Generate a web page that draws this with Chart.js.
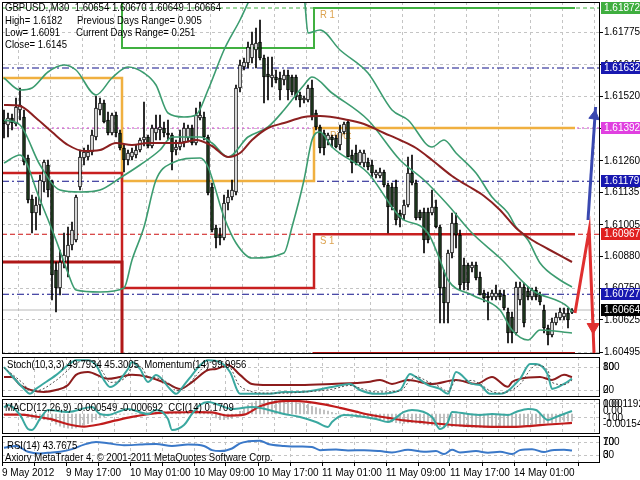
<!DOCTYPE html>
<html><head><meta charset="utf-8">
<script src="https://cdn.jsdelivr.net/npm/chart.js@4.4.1/dist/chart.umd.min.js"></script>
<style>
html,body{margin:0;padding:0;background:#fff;}
#wrap{position:relative;width:640px;height:480px;overflow:hidden;background:#fff;}
canvas{position:absolute;left:0;}
</style></head><body>
<div id="wrap">
<canvas id="cMain" width="640" height="362" style="top:0px"></canvas>
<canvas id="cStoch" width="640" height="42" style="top:356px"></canvas>
<canvas id="cMacd" width="640" height="38" style="top:398px"></canvas>
<canvas id="cRsi" width="640" height="45" style="top:435px"></canvas>
</div>
<script>
// ---------- DATA ----------
const opens = [1.61424,1.61404,1.61432,1.61408,1.61464,1.61436,1.61272,1.61108,1.61052,1.61084,1.61176,1.61244,1.61176,1.60824,1.60752,1.60856,1.60876,1.60924,1.60944,1.61156,1.61272,1.61276,1.61296,1.61356,1.61464,1.61492,1.61424,1.61372,1.61444,1.61372,1.61312,1.61264,1.61276,1.61284,1.61304,1.61344,1.61356,1.61320,1.61372,1.61384,1.61392,1.61372,1.61364,1.61304,1.61316,1.61336,1.61352,1.61392,1.61332,1.61432,1.61436,1.61356,1.61156,1.60992,1.60964,1.60952,1.61092,1.61116,1.61136,1.61552,1.61636,1.61652,1.61672,1.61704,1.61736,1.61672,1.61608,1.61592,1.61596,1.61592,1.61584,1.61604,1.61596,1.61596,1.61524,1.61504,1.61504,1.61552,1.61452,1.61396,1.61372,1.61344,1.61356,1.61352,1.61324,1.61376,1.61416,1.61284,1.61292,1.61252,1.61252,1.61256,1.61244,1.61204,1.61200,1.61216,1.61164,1.61156,1.61156,1.61052,1.61044,1.61084,1.61212,1.61172,1.61056,1.61056,1.61056,1.61052,1.61076,1.60996,1.60756,1.60692,1.60892,1.61012,1.60964,1.60844,1.60844,1.60832,1.60844,1.60796,1.60732,1.60720,1.60716,1.60716,1.60732,1.60724,1.60656,1.60636,1.60572,1.60704,1.60756,1.60740,1.60716,1.60744,1.60724,1.60664,1.60592,1.60564,1.60612,1.60632,1.60636,1.60652,1.60654];
const highs = [1.61464,1.61452,1.61448,1.61512,1.61552,1.61464,1.61284,1.61124,1.61116,1.61204,1.61264,1.61264,1.61184,1.60856,1.60904,1.60972,1.60996,1.61016,1.61124,1.61304,1.61312,1.61324,1.61384,1.61520,1.61512,1.61504,1.61456,1.61452,1.61456,1.61384,1.61324,1.61304,1.61312,1.61324,1.61352,1.61496,1.61364,1.61404,1.61444,1.61444,1.61416,1.61424,1.61372,1.61344,1.61384,1.61412,1.61404,1.61404,1.61472,1.61496,1.61456,1.61364,1.61172,1.61004,1.60992,1.61124,1.61144,1.61184,1.61564,1.61664,1.61672,1.61736,1.61776,1.61792,1.61824,1.61684,1.61676,1.61676,1.61624,1.61616,1.61624,1.61624,1.61604,1.61604,1.61536,1.61520,1.61564,1.61584,1.61464,1.61404,1.61384,1.61372,1.61364,1.61364,1.61404,1.61416,1.61424,1.61304,1.61324,1.61304,1.61304,1.61272,1.61264,1.61224,1.61232,1.61224,1.61172,1.61172,1.61184,1.61064,1.61104,1.61276,1.61284,1.61184,1.61064,1.61072,1.61072,1.61144,1.61104,1.61004,1.60824,1.60904,1.61052,1.61052,1.60984,1.60872,1.60852,1.60856,1.60856,1.60816,1.60744,1.60736,1.60744,1.60764,1.60744,1.60744,1.60672,1.60656,1.60776,1.60776,1.60772,1.60756,1.60752,1.60756,1.60736,1.60684,1.60604,1.60632,1.60652,1.60672,1.60672,1.60672,1.60670];
const lows = [1.61352,1.61356,1.61384,1.61400,1.61424,1.61244,1.61092,1.60972,1.60984,1.61044,1.61136,1.61116,1.60704,1.60656,1.60724,1.60832,1.60796,1.60904,1.60936,1.61144,1.61244,1.61264,1.61284,1.61344,1.61444,1.61412,1.61364,1.61364,1.61356,1.61304,1.61216,1.61244,1.61264,1.61272,1.61296,1.61320,1.61312,1.61312,1.61344,1.61344,1.61356,1.61344,1.61224,1.61284,1.61304,1.61316,1.61336,1.61324,1.61324,1.61424,1.61344,1.61124,1.60976,1.60912,1.60924,1.60944,1.61064,1.61104,1.61124,1.61536,1.61624,1.61632,1.61652,1.61632,1.61664,1.61492,1.61504,1.61556,1.61572,1.61504,1.61564,1.61504,1.61524,1.61504,1.61476,1.61492,1.61496,1.61424,1.61384,1.61292,1.61284,1.61324,1.61316,1.61312,1.61304,1.61368,1.61276,1.61212,1.61244,1.61244,1.61236,1.61224,1.61196,1.61192,1.61192,1.61156,1.60972,1.61064,1.61004,1.60996,1.61024,1.61076,1.61164,1.61024,1.61024,1.60892,1.60932,1.61044,1.60992,1.60612,1.60612,1.60612,1.60872,1.60912,1.60744,1.60744,1.60744,1.60816,1.60784,1.60724,1.60696,1.60624,1.60704,1.60704,1.60704,1.60664,1.60532,1.60532,1.60564,1.60684,1.60596,1.60704,1.60704,1.60704,1.60684,1.60572,1.60524,1.60556,1.60604,1.60624,1.60624,1.60592,1.60649];
const closes = [1.61408,1.61432,1.61412,1.61476,1.61484,1.61256,1.61104,1.61052,1.61084,1.61184,1.61256,1.61144,1.60804,1.60752,1.60856,1.60884,1.60924,1.60984,1.61116,1.61276,1.61296,1.61296,1.61364,1.61472,1.61492,1.61416,1.61372,1.61444,1.61372,1.61312,1.61264,1.61292,1.61296,1.61304,1.61344,1.61356,1.61320,1.61392,1.61392,1.61396,1.61372,1.61364,1.61296,1.61316,1.61336,1.61392,1.61392,1.61332,1.61444,1.61444,1.61356,1.61132,1.60984,1.60952,1.60952,1.61092,1.61116,1.61144,1.61552,1.61644,1.61656,1.61716,1.61728,1.61732,1.61672,1.61596,1.61596,1.61604,1.61584,1.61544,1.61604,1.61544,1.61536,1.61516,1.61504,1.61512,1.61552,1.61436,1.61396,1.61312,1.61312,1.61364,1.61344,1.61316,1.61376,1.61408,1.61276,1.61252,1.61252,1.61296,1.61292,1.61236,1.61212,1.61216,1.61216,1.61164,1.61076,1.61076,1.61024,1.61032,1.61084,1.61212,1.61172,1.61032,1.61032,1.60944,1.60944,1.61076,1.60996,1.60752,1.60692,1.60892,1.61012,1.60964,1.60764,1.60772,1.60772,1.60844,1.60792,1.60724,1.60712,1.60712,1.60732,1.60732,1.60716,1.60672,1.60572,1.60572,1.60756,1.60756,1.60612,1.60716,1.60744,1.60716,1.60696,1.60592,1.60564,1.60616,1.60636,1.60656,1.60652,1.60624,1.60664];

const maBars = [0,4,8,12,16,20,24,28,32,36,40,44,48,52,56,59,62,66,70,75,79,86,90,95,99,103,107,112,116,120,124,128,132,136,142];
const maVals = [1.61484,1.61480,1.61432,1.61376,1.61324,1.61300,1.61304,1.61332,1.61324,1.61332,1.61332,1.61332,1.61344,1.61320,1.61276,1.61292,1.61344,1.61392,1.61412,1.61436,1.61440,1.61424,1.61408,1.61372,1.61344,1.61312,1.61264,1.61200,1.61160,1.61120,1.61064,1.60992,1.60944,1.60908,1.60856];

const upBars = [0,4,7,11,15,18,23,27,31,35,38,41,45,48,51,55,59,62,66,71,75,76,79,84,91,97,101,107,110,113,118,122,126,128,131,134,139,142];
const upVals = [1.61592,1.61544,1.61552,1.61616,1.61644,1.61624,1.61524,1.61592,1.61636,1.61612,1.61564,1.61452,1.61436,1.61444,1.61544,1.61704,1.61824,1.61924,1.62024,1.62024,1.61924,1.61772,1.61784,1.61704,1.61612,1.61464,1.61424,1.61316,1.61344,1.61292,1.61212,1.61116,1.61052,1.60996,1.60944,1.60852,1.60784,1.60756];

const midBars = [0,4,9,14,19,24,29,34,39,42,49,52,56,61,66,70,75,77,82,91,99,105,111,117,124,132,141,142];
const midVals = [1.61424,1.61404,1.61244,1.61144,1.61136,1.61144,1.61192,1.61244,1.61304,1.61356,1.61356,1.61332,1.61276,1.61356,1.61396,1.61464,1.61564,1.61596,1.61532,1.61424,1.61264,1.61184,1.61084,1.60972,1.60872,1.60744,1.60676,1.60656];

const lowBars = [0,4,9,13,16,18,24,30,32,35,38,42,49,51,55,58,62,70,72,75,77,79,82,91,99,106,109,111,117,124,127,131,134,142];
const lowVals = [1.61252,1.61284,1.61104,1.60944,1.60812,1.60744,1.60736,1.60752,1.60864,1.60996,1.61184,1.61252,1.61272,1.61236,1.61036,1.60932,1.60872,1.60892,1.60996,1.61184,1.61344,1.61376,1.61316,1.61212,1.61036,1.60972,1.60864,1.60784,1.60724,1.60664,1.60584,1.60544,1.60584,1.60572];

const pivotBars = [-0.5,29.5,77.5,142.75];
const r1Vals = [1.62100,1.61712,1.61872,1.61872];
const ppVals = [1.61592,1.61180,1.61392,1.61392];
const s1Vals = [1.61212,1.60752,1.60967,1.60967];
const s2Vals = [1.60856,1.60400,1.60490,1.60490];
const pivotLabelText = ['R 1','Pivot','S 1'];
const pivotLabelBars = [79,81.5,79];
const pivotLabelVals = [1.61844,1.61360,1.60940];

const levelVals = [1.61872,1.61632,1.61392,1.61179,1.60967,1.60727,1.60664];
const priceTicks = [1.60495,1.60625,1.60750,1.60880,1.61005,1.61135,1.61260,1.61390,1.61520,1.61645,1.61775];

const blueArrowBars = [146.0,147.9];
const blueArrowVals = [1.61024,1.61476];
const redArrowBars = [142.75,146.3,147.5];
const redArrowVals = [1.60652,1.60984,1.60492];

const timeLabels = ['9 May 2012','9 May 17:00','10 May 01:00','10 May 09:00','10 May 17:00','11 May 01:00','11 May 09:00','11 May 17:00','14 May 01:00'];
const timeLabelBars = [-0.5,15.5,31.5,47.5,63.5,79.5,95.5,111.5,127.5];
const gridBars = [-0.5,7.5,15.5,23.5,31.5,39.5,47.5,55.5,63.5,71.5,79.5,87.5,95.5,103.5,111.5,119.5,127.5,135.5,143.5];

const stochBars = [0,5,6.5,8,13,16,18,21,23,25,26.5,31,32,34,36,38,41.5,43,45,47,49,51,54,56.5,59,66,70,74,82,86.5,89,93,99,101.5,103,106,109,111,113,117,119,121.5,124,129,131.5,133,136,137,140,142];
const stochMain = [80,23,10,23,59,85,98,98,85,46,28,75,93,75,41,59,23,10,33,59,85,98,93,67,10,10,15,15,28,36,20,10,20,62,54,33,23,10,67,36,33,10,10,49,88,88,59,23,36,49.79];
const stochSignal = [78,35,18,18,45,72,90,97,92,62,40,60,82,82,55,52,35,18,25,45,70,90,95,80,30,12,12,14,22,32,25,15,17,45,55,42,28,16,45,45,36,18,12,35,72,85,70,40,34,45.30];
const momBars = [0,2,4,10,13,16,18,21,26,29,32,36,41,44,47,51,53,56,59,62,66,71,74,82,91,94,97,101,107,113,118,122,126,127,129,134,137,140,142];
const momVals = [100.00,100.00,99.70,99.44,99.51,99.70,100.08,100.19,99.93,100.00,100.08,100.00,99.74,99.55,99.81,100.26,100.30,100.45,100.08,99.74,99.70,99.70,99.70,99.74,99.81,99.89,99.74,99.89,99.74,99.89,99.74,100.00,99.63,99.81,99.93,100.00,99.89,100.08,99.9956];

const macdHist = [-0.00005,-0.00003,-0.00002,0.00002,0.00004,
-0.00005,-0.00020,-0.00035,-0.00045,-0.00048,-0.00045,-0.00047,-0.00060,
-0.00080,-0.00095,-0.00105,-0.00110,-0.00112,-0.00108,-0.00095,-0.00085,
-0.00075,-0.00062,-0.00045,-0.00030,-0.00022,-0.00015,-0.00008,-0.00005,-0.00003,-0.00002,
0.00000,0.00002,0.00004,0.00008,0.00012,0.00012,0.00014,0.00016,0.00018,0.00018,
0.00016,0.00012,0.00010,0.00010,0.00012,0.00014,0.00014,0.00020,0.00024,0.00022,
0.00010,-0.00010,-0.00030,-0.00045,-0.00045,-0.00040,-0.00035,
-0.00010,0.00020,0.00045,0.00070,0.00088,0.00100,0.00108,0.00110,
0.00112,0.00110,0.00108,0.00105,0.00102,0.00098,0.00094,0.00090,0.00086,0.00082,0.00078,
0.00060,0.00050,0.00040,0.00030,0.00022,0.00014,0.00006,0.00000,-0.00004,-0.00010,-0.00016,-0.00020,-0.00024,-0.00028,
-0.00032,-0.00036,-0.00040,-0.00044,-0.00048,-0.00056,-0.00062,-0.00068,-0.00072,-0.00074,-0.00070,-0.00068,-0.00072,-0.00076,-0.00082,
-0.00086,-0.00088,-0.00090,-0.00098,-0.00108,-0.00104,-0.00098,-0.00094,-0.00096,-0.00100,
-0.00102,-0.00104,-0.00104,-0.00104,-0.00104,-0.00104,-0.00102,-0.00100,-0.00098,-0.00096,-0.00100,-0.00104,-0.00096,-0.00090,-0.00090,
-0.00086,-0.00082,-0.00078,-0.00074,-0.00072,-0.00074,-0.00070,-0.00066,-0.00062,-0.00058,-0.00056,-0.000549];
const sigBars = [0,4,8,12,16,20,24,28,32,36,40,44,48,52,56,60,64,68,72,76,80,84,88,92,96,100,104,108,112,116,120,124,128,132,136,140,142];
const sigVals = [-0.00005,-0.00005,-0.00020,-0.00042,-0.00080,-0.00098,-0.00080,-0.00050,-0.00022,-0.00002,0.00010,0.00013,0.00015,0.00012,-0.00012,-0.00005,0.00060,0.00095,0.00103,0.00095,0.00075,0.00048,0.00018,-0.00010,-0.00030,-0.00050,-0.00062,-0.00074,-0.00086,-0.00092,-0.00098,-0.00100,-0.00100,-0.00092,-0.00082,-0.00074,-0.000692];
const cciBars = [0,1,4,6,7,9,11,16,22,24,26,31,36,38,41,42,45,47,49,51,57,62,70,74,78,81,82,85,93,96,100,102,107,109,111,112,116,119,122,126,128,131,133,136,138,142];
const cciVals = [50,86,-57,-257,-271,-114,14,-14,57,-43,-57,29,-43,14,-114,-271,-200,-43,86,129,29,57,-43,-86,-157,-229,-157,-57,-114,-157,-14,14,-86,-257,-157,-14,-43,-57,-43,-57,-14,29,14,-129,-86,0.17];

const rsiBars = [0,3,6,9,12,14,17,20,23,26,30,34,38,42,46,50,52,54,57,59,61,64,66,70,74,77,79,83,86,90,94,97,101,105,108,110,112,114,118,121,124,127,129,132,135,137,140,142];
const rsiVals = [52,58,40,35,38,40,48,62,70,66,60,62,64,58,62,58,45,42,50,66,72,74,64,58,56,55,45,47,44,45,42,38,46,40,42,33,46,38,42,37,40,33,45,48,39,45,46,43.7675];

// ---------- STYLE ----------
const FONT = "'Liberation Sans',Arial,sans-serif";
const levelColors = ['#3fae3f','#10108a','#d040d0','#10108a','#cc1010','#10108a','#b8b8b8'];
const levelDashes = [[4,3],[7,3,2,3],[2,3],[7,3,2,3],[5,3],[7,3,2,3],[]];
const boxColors = ['#3fae3f','#1818b0','#e040e0','#1818b0','#e02020','#1818b0','#000000'];

function condText(ctx, t, x, y){ ctx.save(); ctx.translate(x, y); ctx.scale(0.87, 1); ctx.fillText(t, 0, 0); ctx.restore(); }
function xy(bars, vals){ return bars.map((b,i)=>({x:b, y:vals[i]})); }
function xScale(show){
  return {type:'linear', min:-0.5, max:149, offset:false,
    afterBuildTicks: s => { s.ticks = gridBars.map(v=>({value:v})); },
    afterFit: s => { s.height = show ? 17 : 0; s.paddingLeft=0; s.paddingRight=0; },
    grid:{color:'#c4c4c4', drawTicks:show, tickLength:3, tickColor:'#000'},
    border:{display:false, dash:[3,3]},
    ticks:{display:show, autoSkip:false, maxRotation:0, minRotation:0, align:'start', padding:1, color:'#000',
      font:{size:10, family:FONT},
      callback: v => { const k = timeLabelBars.indexOf(v); return k>=0 ? timeLabels[k] : ''; }}
  };
}
function sideAxis(min, max, ticks){
  return {position:'right', min:min, max:max,
    afterBuildTicks: s => { s.ticks = ticks.map(v=>({value:v})); },
    afterFit: s => { s.width = 40; s.paddingTop=0; s.paddingBottom=0; },
    grid:{color:'#c4c4c4', drawTicks:false}, border:{display:false, dash:[3,3]},
    ticks:{display:false}};
}
function lineDs(data, color, width, extra){
  return Object.assign({type:'line', data:data, borderColor:color, borderWidth:width, pointRadius:0, fill:false, cubicInterpolationMode:'monotone'}, extra||{});
}
function frame(chart){
  const {ctx, chartArea:a} = chart;
  ctx.save(); ctx.strokeStyle='#000'; ctx.lineWidth=1;
  ctx.strokeRect(a.left+0.5, a.top+0.5, a.right-a.left-1, a.bottom-a.top-1);
  ctx.restore();
}
const baseOpts = () => ({responsive:false, animation:false, events:[], devicePixelRatio:1,
  plugins:{legend:{display:false}, tooltip:{enabled:false}}});

// ---------- MAIN ----------
const bodyColors = opens.map((o,i)=> closes[i] >= o ? '#ffffff' : '#1f3d1f');
const mainDecor = {
  id:'mainDecor',
  beforeDatasetsDraw(chart){
    const {ctx, scales:{x,y}} = chart;
    ctx.save(); ctx.font='11px '+FONT; ctx.fillStyle='#dca24e'; ctx.textBaseline='middle';
    pivotLabelText.forEach((t,k)=>condText(ctx, t, x.getPixelForValue(pivotLabelBars[k]), y.getPixelForValue(pivotLabelVals[k])));
    ctx.restore();
  },
  afterDraw(chart){
    const {ctx, chartArea:a, scales:{x,y}} = chart;
    frame(chart);
    ctx.save();
    ctx.font='10px '+FONT; ctx.textBaseline='middle';
    levelVals.forEach((v,k)=>{
      const py = Math.round(y.getPixelForValue(v));
      ctx.fillStyle = boxColors[k]; ctx.fillRect(a.right+1, py-6, 39, 12);
      ctx.fillStyle = '#fff'; ctx.fillText(v.toFixed(5), a.right+4, py+0.5);
    });
    ctx.font='11px '+FONT; ctx.fillStyle='#000';
    condText(ctx, 'GBPUSD.,M30  1.60654 1.60670 1.60649 1.60664', 5, 8);
    condText(ctx, 'High= 1.6182', 5, 21);
    condText(ctx, 'Previous Days Range= 0.905', 77, 21);
    condText(ctx, 'Low= 1.6091', 5, 33);
    condText(ctx, 'Current Days Range= 0.251', 76, 33);
    condText(ctx, 'Close= 1.6145', 5, 45);
    ctx.restore();
  }
};
const mainDatasets = [];
levelVals.forEach((v,k)=>mainDatasets.push(lineDs([{x:-0.5,y:v},{x:149,y:v}], levelColors[k], 1, {borderDash:levelDashes[k], order:30, cubicInterpolationMode:'default'})));
mainDatasets.push(lineDs(xy(pivotBars, s2Vals), '#b01818', 3, {stepped:'before', order:20}));
mainDatasets.push(lineDs(xy(pivotBars, s1Vals), '#c82020', 2.5, {stepped:'before', order:20}));
mainDatasets.push(lineDs(xy(pivotBars, ppVals), '#f0b040', 2.5, {stepped:'before', order:20}));
mainDatasets.push(lineDs(xy(pivotBars, r1Vals), '#40b040', 2, {stepped:'before', order:20}));
mainDatasets.push({type:'bar', data: opens.map((o,i)=>({x:i, y:[lows[i], highs[i]]})), backgroundColor:'#000', barThickness:1, grouped:false, order:12});
mainDatasets.push({type:'bar', data: opens.map((o,i)=>({x:i, y:[Math.min(o,closes[i]), Math.max(o,closes[i])]})), backgroundColor:bodyColors, borderColor:'#000', borderWidth:1, borderSkipped:false, barThickness:3, minBarLength:1, grouped:false, order:11});
mainDatasets.push(lineDs(xy(upBars, upVals), '#3c9c70', 1.6, {order:5}));
mainDatasets.push(lineDs(xy(midBars, midVals), '#3c9c70', 1.6, {order:5}));
mainDatasets.push(lineDs(xy(lowBars, lowVals), '#3c9c70', 1.6, {order:5}));
mainDatasets.push(lineDs(xy(maBars, maVals), '#8c2020', 2, {order:4}));
mainDatasets.push(lineDs(xy(blueArrowBars, blueArrowVals), '#3a48b0', 3, {order:1, cubicInterpolationMode:'default'}));
mainDatasets.push(lineDs(xy(redArrowBars, redArrowVals), '#e03030', 3, {order:1, cubicInterpolationMode:'default'}));
mainDatasets.push({type:'line', data:[{x:147.6, y:1.61440}], showLine:false, pointStyle:'triangle', pointRadius:6, backgroundColor:'#3a48b0', borderColor:'#3a48b0', rotation:8, order:1});
mainDatasets.push({type:'line', data:[{x:147.3, y:1.60596}], showLine:false, pointStyle:'triangle', pointRadius:7, backgroundColor:'#e03030', borderColor:'#e03030', rotation:180, order:1});

const mainOpts = baseOpts();
mainOpts.layout = {padding:{left:2, right:0, top:2, bottom:8}, autoPadding:false};
mainOpts.scales = {
  x: xScale(false),
  y: {position:'right', min:1.60488, max:1.61896,
    afterBuildTicks: s => { s.ticks = priceTicks.map(v=>({value:v})); },
    afterFit: s => { s.width = 40; s.paddingTop=0; s.paddingBottom=0; },
    grid:{color:'#c4c4c4', tickLength:3, tickColor:'#000'},
    border:{display:false, dash:[3,3]},
    ticks:{autoSkip:false, padding:1, color:'#000', font:{size:10, family:FONT}, callback: v => Number(v).toFixed(5)}}
};
new Chart(document.getElementById('cMain'), {type:'bar', data:{datasets:mainDatasets}, options:mainOpts, plugins:[mainDecor]});

// ---------- STOCH / MOMENTUM ----------
const stochDecor = {id:'stochDecor', afterDraw(chart){
  const {ctx, chartArea:a, scales} = chart; frame(chart);
  ctx.save(); ctx.font='11px '+FONT; ctx.textBaseline='middle'; ctx.fillStyle='#000';
  condText(ctx, 'Stoch(10,3,3) 49.7934 45.3005  Momentum(14) 99.9956', 7, 9);
  ctx.font='10px '+FONT;
  const y80 = scales.y.getPixelForValue(80), y20 = scales.y.getPixelForValue(20);
  ctx.fillText('100', a.right+3, y80); ctx.fillText('80', a.right+3, y80);
  ctx.fillText('20', a.right+3, y20); ctx.fillText('0', a.right+3, y20);
  ctx.restore();
}};
const stochOpts = baseOpts();
stochOpts.layout = {padding:{left:2, right:0, top:1, bottom:1}, autoPadding:false};
stochOpts.scales = {x:xScale(false), y:sideAxis(1.8, 106.3, [20,80]), yMom:{display:false, min:99.25, max:100.75}};
new Chart(document.getElementById('cStoch'), {type:'line', data:{datasets:[
  lineDs(xy(stochBars, stochSignal), '#505050', 1, {borderDash:[2,2]}),
  lineDs(xy(stochBars, stochMain), '#3aa8a0', 2),
  lineDs(xy(momBars, momVals), '#8c1c1c', 2, {yAxisID:'yMom'})
]}, options:stochOpts, plugins:[stochDecor]});

// ---------- MACD / CCI ----------
const macdDecor = {id:'macdDecor', afterDraw(chart){
  const {ctx, chartArea:a, scales} = chart; frame(chart);
  ctx.save(); ctx.font='11px '+FONT; ctx.textBaseline='middle'; ctx.fillStyle='#000';
  condText(ctx, 'MACD(12,26,9) -0.000549 -0.000692  CCI(14) 0.1709', 5, 10);
  ctx.font='10px '+FONT;
  const c = scales.y;
  ctx.fillText('100', a.right+3, c.getPixelForValue(100)); ctx.fillText('0.001192', a.right+3, c.getPixelForValue(100));
  ctx.fillText('0.00', a.right+3, c.getPixelForValue(0));
  ctx.fillText('-100', a.right+3, c.getPixelForValue(-100));
  ctx.fillText('-0.00154', a.right+3, c.getPixelForValue(-186));
  ctx.restore();
}};
const macdOpts = baseOpts();
macdOpts.layout = {padding:{left:2, right:0, top:1, bottom:2}, autoPadding:false};
macdOpts.scales = {x:xScale(false), y:sideAxis(-329, 171, [-100,100]), yMacd:{display:false, min:-0.00156, max:0.00117}};
new Chart(document.getElementById('cMacd'), {type:'bar', data:{datasets:[
  {type:'bar', data: macdHist.map((v,i)=>({x:i, y:v})), yAxisID:'yMacd', backgroundColor:'#b4b4b4', barThickness:1, grouped:false, order:5},
  lineDs(xy(sigBars, sigVals), '#c01c1c', 2.2, {yAxisID:'yMacd', order:2}),
  lineDs(xy(cciBars, cciVals), '#3aa8a0', 2, {yAxisID:'y', order:1})
]}, options:macdOpts, plugins:[macdDecor]});

// ---------- RSI ----------
const rsiDecor = {id:'rsiDecor', afterDraw(chart){
  const {ctx, chartArea:a, scales} = chart; frame(chart);
  ctx.save(); ctx.font='11px '+FONT; ctx.textBaseline='middle'; ctx.fillStyle='#000';
  condText(ctx, 'RSI(14) 43.7675', 7, 11);
  condText(ctx, 'Axiory MetaTrader 4, \u00a9 2001-2011 MetaQuotes Software Corp.', 5, 23);
  ctx.font='10px '+FONT;
  const y70 = scales.y.getPixelForValue(70), y30 = scales.y.getPixelForValue(30);
  ctx.fillText('100', a.right+3, y70); ctx.fillText('70', a.right+3, y70);
  ctx.fillText('30', a.right+3, y30); ctx.fillText('0', a.right+3, y30);
  ctx.restore();
}};
const rsiOpts = baseOpts();
rsiOpts.layout = {padding:{left:2, right:0, top:1, bottom:0}, autoPadding:false};
rsiOpts.scales = {x:xScale(true), y:sideAxis(5.4, 88.5, [30,70])};
new Chart(document.getElementById('cRsi'), {type:'line', data:{datasets:[
  lineDs(xy(rsiBars, rsiVals), '#3a78c8', 2)
]}, options:rsiOpts, plugins:[rsiDecor]});
</script>
</body></html>
